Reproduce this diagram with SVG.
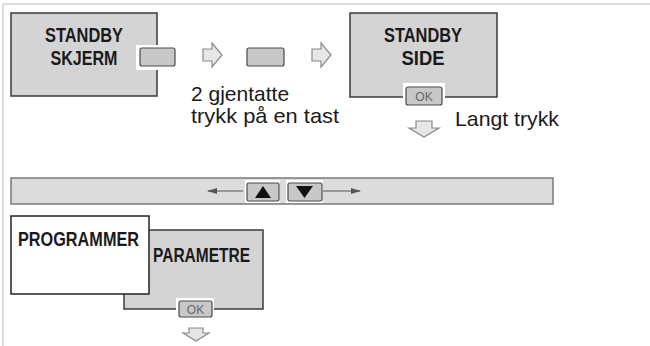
<svg xmlns="http://www.w3.org/2000/svg" width="650" height="346" viewBox="0 0 650 346">
<style>
.frame{stroke:#dcdcdc;stroke-width:2;fill:none}
.box{fill:#d4d4d4;stroke:#3a3a3a;stroke-width:1.5}
.wbox{fill:#fff;stroke:#222;stroke-width:1.5}
.bar{fill:#dcdcdc;stroke:#7a7a7a;stroke-width:1.5}
.notch{fill:#fff;stroke:none}
.btn{fill:#c8c8c8;stroke:#4a4a4a;stroke-width:1.2}
.harrow{fill:#e6e6e6;stroke:#8a8a8a;stroke-width:1.2;stroke-linejoin:miter}
.title{font-family:"Liberation Sans",Arial,sans-serif;font-weight:bold;font-size:19.5px;fill:#1a1a1a;text-anchor:middle}
.ttl{font-family:"Liberation Sans",Arial,sans-serif;font-weight:bold;font-size:19.5px;fill:#1a1a1a}
.lbl{font-family:"Liberation Sans",Arial,sans-serif;font-size:21px;fill:#1a1a1a}
.ok{font-family:"Liberation Sans",Arial,sans-serif;font-size:12px;fill:#666;text-anchor:middle}
.line{stroke:#555;stroke-width:1.2;fill:none}
</style>
<defs>
<marker id="ah" markerWidth="10" markerHeight="8" refX="9" refY="4" orient="auto" markerUnits="userSpaceOnUse">
<path d="M0,1 L10,4 L0,7 Z" fill="#555"/>
</marker>
</defs>
<g id="frame">
<line class="frame" x1="3" y1="4" x2="650" y2="4"/>
<line class="frame" x1="3" y1="4" x2="3" y2="346"/>
</g>
<g id="standby-skjerm">
<rect class="box" x="11" y="13" width="146" height="83"/>
<text class="title" x="84" y="42" textLength="78" lengthAdjust="spacingAndGlyphs">STANDBY</text>
<text class="title" x="84" y="65" textLength="67" lengthAdjust="spacingAndGlyphs">SKJERM</text>
</g>
<g id="key1">
<rect class="notch" x="136" y="45" width="40" height="25"/>
<rect class="btn" x="140" y="48" width="35" height="18" rx="2"/>
</g>
<g id="key2">
<rect class="btn" x="247" y="48" width="37" height="18" rx="2"/>
</g>
<g id="standby-side">
<rect class="box" x="350" y="13" width="147" height="84"/>
<text class="title" x="423" y="42" textLength="78" lengthAdjust="spacingAndGlyphs">STANDBY</text>
<text class="title" x="423" y="65" textLength="43" lengthAdjust="spacingAndGlyphs">SIDE</text>
<rect class="notch" x="403" y="83" width="42" height="23"/>
<rect class="btn" x="406" y="87" width="36" height="18" rx="2"/>
<text class="ok" x="424" y="101">OK</text>
</g>
<g id="labels">
<text class="lbl" x="191" y="101">2 gjentatte</text>
<text class="lbl" x="191" y="123" textLength="148" lengthAdjust="spacingAndGlyphs">trykk på en tast</text>
<text class="lbl" x="455" y="126" textLength="104" lengthAdjust="spacingAndGlyphs">Langt trykk</text>
</g>
<g id="nav-bar">
<rect class="bar" x="11" y="178" width="542" height="26"/>
<rect class="notch" x="245" y="180" width="35" height="23"/>
<rect class="btn" x="247" y="183" width="32" height="18" rx="1.5"/>
<path d="M255,198 L263,186 L271,198 Z" fill="#111"/>
<rect class="notch" x="286" y="180" width="37" height="23"/>
<rect class="btn" x="288" y="183" width="34" height="18" rx="1.5"/>
<path d="M296,186 L313,186 L304.5,198 Z" fill="#111"/>
</g>
<g id="programmer">
<rect class="box" x="124" y="230" width="139" height="79"/>
<text class="ttl" x="153" y="262" textLength="97" lengthAdjust="spacingAndGlyphs">PARAMETRE</text>
<rect class="wbox" x="11" y="216" width="138" height="78"/>
<text class="ttl" x="18" y="246" textLength="121" lengthAdjust="spacingAndGlyphs">PROGRAMMER</text>
<rect class="notch" x="176" y="298" width="38" height="20"/>
<rect class="btn" x="179" y="301" width="33" height="16" rx="2"/>
<text class="ok" x="195.5" y="314">OK</text>
</g>
<g id="connectors">
<path class="harrow" d="M203,49 L212,49 L212,43 L222,55 L212,67 L212,61 L203,61 Z"/>
<path class="harrow" d="M312,49 L321,49 L321,43 L331,55 L321,67 L321,61 L312,61 Z"/>
<path class="harrow" d="M416,121 L432,121 L432,128 L439,128 L424,137 L409,128 L416,128 Z"/>
<path class="harrow" d="M189,328 L203,328 L203,333 L209,333 L196,341 L183,333 L189,333 Z"/>
<line class="line" x1="243" y1="191" x2="208" y2="191" marker-end="url(#ah)"/>
<line class="line" x1="323" y1="191" x2="360" y2="191" marker-end="url(#ah)"/>
</g>
</svg>
